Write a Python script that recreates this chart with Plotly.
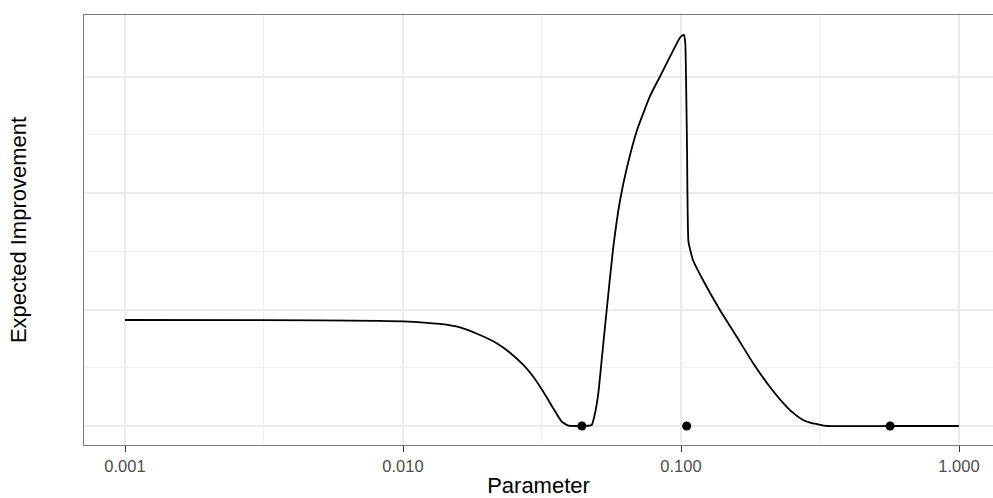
import plotly.graph_objects as go

# Curve (parameter on log scale, expected improvement)
param = [0.00100, 0.00316, 0.00826, 0.01000, 0.01358, 0.01603, 0.01892, 0.02173,
         0.02426, 0.02709, 0.02942, 0.03197, 0.03472, 0.03723, 0.03932, 0.04227,
         0.04515, 0.04774, 0.04905, 0.05041, 0.05185, 0.05329, 0.05404, 0.05691,
         0.06039, 0.06397, 0.06950, 0.07727, 0.08403, 0.09129, 0.09897, 0.10075,
         0.10252, 0.10363, 0.10510, 0.10641, 0.11041, 0.11995, 0.13804, 0.15888,
         0.18155, 0.20893, 0.24044, 0.25712, 0.27479, 0.29107, 0.30832, 0.33497,
         0.56494, 1.00000]
ei = [0.910, 0.909, 0.903, 0.899, 0.876, 0.847, 0.781, 0.710,
      0.629, 0.524, 0.423, 0.294, 0.152, 0.037, 0.003, 0.000,
      0.001, 0.009, 0.109, 0.281, 0.567, 0.852, 0.996, 1.511,
      1.940, 2.223, 2.541, 2.830, 3.000, 3.170, 3.330, 3.350,
      3.356, 3.280, 2.400, 1.580, 1.425, 1.253, 0.996, 0.764,
      0.541, 0.335, 0.163, 0.100, 0.052, 0.030, 0.017, 0.000,
      0.000, 0.000]

# Observed points
obs_param = [0.0440, 0.1048, 0.565]
obs_ei = [0.0, 0.0, 0.0]

x_ticks = [0.001, 0.01, 0.1, 1.0]
x_tick_labels = ["0.001", "0.010", "0.100", "1.000"]
x_minor = [0.00316, 0.0316, 0.316]
y_ticks = [0, 1, 2, 3]
y_minor = [0.5, 1.5, 2.5]

fig = go.Figure()
fig.add_trace(go.Scatter(x=param, y=ei, mode="lines",
                         line=dict(color="black", width=1.8, shape="spline", smoothing=0.4),
                         hoverinfo="skip"))
fig.add_trace(go.Scatter(x=obs_param, y=obs_ei, mode="markers",
                         marker=dict(color="black", size=9)))

fig.update_layout(
    width=993, height=498,
    margin=dict(l=84, r=0, t=15, b=53),
    plot_bgcolor="white", paper_bgcolor="white",
    showlegend=False,
    font=dict(family="Liberation Sans, Arial, sans-serif", color="black"),
)
fig.update_xaxes(
    type="log", range=[-3.1475, 0.1223], automargin=False,
    tickvals=x_ticks, ticktext=x_tick_labels,
    ticks="outside", ticklen=6, tickcolor="#333333", tickwidth=1,
    tickfont=dict(size=16.5, color="#4d4d4d"),
    showgrid=True, gridcolor="#ebebeb", gridwidth=1.5,
    minor=dict(tickvals=x_minor, showgrid=True, gridcolor="#efefef", gridwidth=1, ticks=""),
    showline=True, linecolor="#7a7a7a", linewidth=1, mirror=True,
    zeroline=False,
    title=dict(text="Parameter", font=dict(size=22, color="black"), standoff=4),
)
fig.update_yaxes(
    range=[-0.163, 3.528], automargin=False,
    tickvals=y_ticks, showticklabels=False, ticks="",
    showgrid=True, gridcolor="#ebebeb", gridwidth=1.5,
    minor=dict(tickvals=y_minor, showgrid=True, gridcolor="#efefef", gridwidth=1, ticks=""),
    showline=True, linecolor="#7a7a7a", linewidth=1, mirror=False,
    zeroline=False,
    title=dict(text="Expected Improvement", font=dict(size=22, color="black"), standoff=50),
)

fig.write_html("out.html", config={"displayModeBar": False},
               post_script="document.body.style.margin='0';document.body.style.overflow='hidden';")
